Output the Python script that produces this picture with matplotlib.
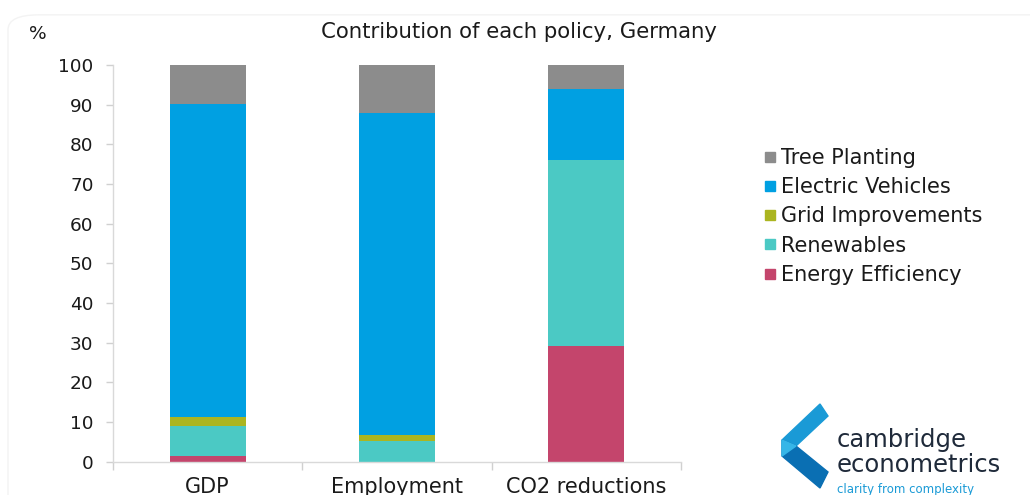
import matplotlib
matplotlib.use("Agg")
import matplotlib.pyplot as plt
import numpy as np
from matplotlib.patches import Polygon, FancyBboxPatch
from matplotlib.lines import Line2D

plt.rcParams['font.family'] = ['DejaVu Sans']

categories = ["GDP", "Employment", "CO2 reductions"]
energy_efficiency = [1.4, 0.0, 29.2]
renewables = [7.6, 5.1, 46.8]
grid_improvements = [2.3, 1.6, 0.0]
electric_vehicles = [78.9, 81.1, 18.0]
tree_planting = [9.8, 12.2, 6.0]

series = [
    ("Energy Efficiency", energy_efficiency, "#c4456c"),
    ("Renewables", renewables, "#4bc9c4"),
    ("Grid Improvements", grid_improvements, "#abb520"),
    ("Electric Vehicles", electric_vehicles, "#00a0e2"),
    ("Tree Planting", tree_planting, "#8c8c8c"),
]

FS_TICK = 13.3
FS = 15
fig = plt.figure(figsize=(10.30, 4.95), dpi=100)
ax = fig.add_axes([113/1030, 1-461.7/495, (681-113)/1030, (461.7-65)/495])

x = np.arange(len(categories))
bottom = np.zeros(len(categories))
for name, vals, col in series:
    ax.bar(x, vals, bottom=bottom, width=0.4, color=col, label=name, edgecolor='none')
    bottom += np.array(vals)

ax.set_xlim(-0.5, len(categories) - 0.5)
ax.set_ylim(0, 100)
ax.set_yticks(np.arange(0, 101, 10))
ax.tick_params(axis='y', labelsize=FS_TICK, colors='#d0d0d0', labelcolor='#1a1a1a',
               length=5, width=1, pad=9)
ax.set_xticks(x)
ax.set_xticklabels(categories)
ax.tick_params(axis='x', which='major', length=0, labelsize=FS, labelcolor='#1a1a1a', pad=11)
ax.set_xticks(np.arange(-0.5, len(categories)), minor=True)
ax.tick_params(axis='x', which='minor', length=6, width=1, colors='#d0d0d0')
for s in ['top', 'right']:
    ax.spines[s].set_visible(False)
for s in ['left', 'bottom']:
    ax.spines[s].set_color('#d9d9d9')
    ax.spines[s].set_linewidth(1)

fig.text(519/1030, 1-32/495, "Contribution of each policy, Germany", ha='center', va='center',
         fontsize=15.3, color='#1a1a1a')
fig.text(38/1030, 1-34/495, "%", ha='center', va='center', fontsize=FS_TICK, color='#1a1a1a')

handles = [Line2D([0], [0], marker='s', linestyle='none', markersize=7.2,
                  markerfacecolor=col, markeredgecolor=col) for _, _, col in series][::-1]
labels = [name for name, _, _ in series][::-1]
fig.legend(handles, labels, loc='center left', bbox_to_anchor=(756.5/1030, 1-216.5/495),
           frameon=False, fontsize=FS, handlelength=0.5, handletextpad=0.27,
           labelspacing=0.44, labelcolor='#1a1a1a', borderaxespad=0)

# faint frame
frame = FancyBboxPatch((8/1030, -0.1), 1.2, 1.07, boxstyle="round,pad=0,rounding_size=0.03",
                       transform=fig.transFigure, fill=False, edgecolor='#f3f3f3', lw=1)
fig.patches.append(frame)

# logo
lax = fig.add_axes([776/1030, 1-494/495, 62/1030, 92/495])
lax.set_xlim(0, 62)
lax.set_ylim(92, 0)
lax.axis('off')
lax.add_patch(Polygon([[44, 2], [52, 14], [20, 44], [6, 38]], closed=True, color='#1a9ad6'))
lax.add_patch(Polygon([[6, 38], [20, 44], [52, 70], [44, 86], [6, 54]], closed=True, color='#0a6fb3'))
lax.add_patch(Polygon([[6, 38], [20, 44], [6, 54]], closed=True, color='#36b6e8'))

fig.text(837/1030, 1-440/495, "cambridge", ha='left', va='center', fontsize=17.5, color='#1f2a3a')
fig.text(837/1030, 1-465/495, "econometrics", ha='left', va='center', fontsize=17.5, color='#1f2a3a')
fig.text(837/1030, 1-489/495, "clarity from complexity", ha='left', va='center', fontsize=8.5,
         color='#1a9ad6')

fig.savefig("out.png", dpi=100)
